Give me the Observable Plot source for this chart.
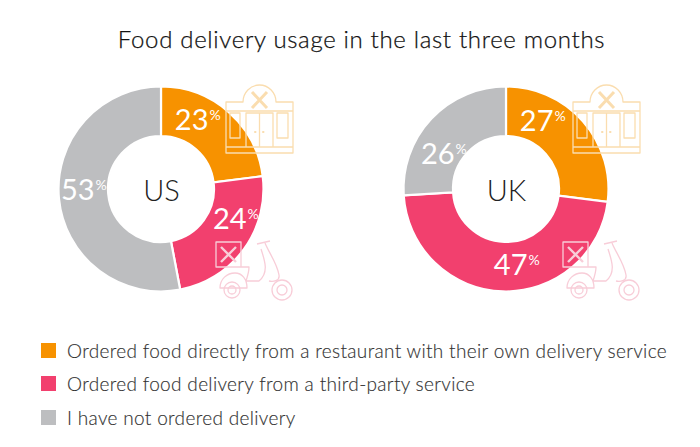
<!DOCTYPE html>
<html><head><meta charset="utf-8">
<script src="https://cdn.jsdelivr.net/npm/d3@7"></script>
<script src="https://cdn.jsdelivr.net/npm/@observablehq/plot@0.6"></script>
<style>
html,body{margin:0;padding:0;background:#fff;width:700px;height:447px;overflow:hidden;font-family:Lato,sans-serif}
#title{position:absolute;left:0;top:24px;width:723px;text-align:center;font-size:24px;line-height:30px;color:#111;font-weight:300;letter-spacing:.67px;-webkit-text-stroke:.25px #111}
#chart{position:absolute;left:0;top:70px}
.row{position:absolute;left:41px;height:16px;display:flex;align-items:center;white-space:nowrap;font-size:19px;font-weight:300;color:#333;letter-spacing:.33px;-webkit-text-stroke:.15px #333}
.row i{display:block;width:15px;height:15px;margin-right:11px;flex:none}
</style></head><body>
<div id="title">Food delivery usage in the last three months</div>
<div id="chart"></div>
<div id="legend"></div>
<script>
// ---- data ----
const countries = ["US", "UK"];
const categories = [
  "Ordered food directly from a restaurant with their own delivery service",
  "Ordered food delivery from a third-party service",
  "I have not ordered delivery"
];
const usValues = [23, 24, 53];
const ukValues = [27, 47, 26];
const colors = ["#F79200", "#F2406E", "#BDBEC0"];

// ---- layout ----
const W = 700, H = 240, R = 102.5, r0 = 53, midR = 78;
const centerX = {US: 161, UK: 506};
const centerY = 119;
const nudge = {US: [[-4.6,-2.5],[22,-8],[10.7,.7]], UK: [[-11.5,-9.4],[23.4,6],[4.9,25.4]]};
const legendTops = [342, 375, 409];

const slices = [];
for (const [country, vals] of [["US", usValues], ["UK", ukValues]]) {
  let cum = 0;
  vals.forEach((v, k) => {
    const startAngle = cum / 100 * 2 * Math.PI;
    cum += v;
    const endAngle = cum / 100 * 2 * Math.PI;
    const mid = (startAngle + endAngle) / 2;
    slices.push({
      country, value: v, category: categories[k], startAngle, endAngle,
      cx: centerX[country], cy: centerY,
      lx: centerX[country] + midR * Math.sin(mid) + nudge[country][k][0],
      ly: centerY - midR * Math.cos(mid) + nudge[country][k][1]
    });
  });
}
const arc = d3.arc().innerRadius(r0).outerRadius(R);

function renderSlices(index, scales, values) {
  const g = d3.create("svg:g");
  for (const i of index) {
    g.append("path")
      .attr("transform", `translate(${values.x[i]},${values.y[i]})`)
      .attr("d", arc(slices[i]))
      .attr("fill", values.fill[i])
      .attr("stroke", "#fff").attr("stroke-width", 2.2);
  }
  return g.node();
}

// decorative line icons, relative to each donut's centre
function iconMark(index, scales) {
  const g = d3.create("svg:g").attr("fill", "none").attr("stroke-linejoin", "round");
  for (const c of countries) {
    const t = g.append("g").attr("transform", `translate(${scales.x(centerX[c]) + (c === "UK" ? 2 : 0)},${scales.y(centerY)})`);
    const shop = t.append("g").attr("stroke", "#FADDAF").attr("stroke-width", 1.3);
    shop.append("path").attr("d",
      "M65 -87H82A16.500 17 0 0 1 115 -87H132V-36H65Z" +
      "M65 -78H132M65 -42H132" +
      "M69 -76H79V-51H69ZM116 -76H127V-51H116Z" +
      "M85 -76H112V-42H85ZM98.500 -76V-42");
    shop.append("path").attr("stroke-width", 3).attr("d", "M91 -97L106 -81M106 -97L91 -81");
    shop.append("path").attr("stroke-width", 2).attr("stroke-linecap", "round").attr("d", "M94 -57h.5M102 -57h.5");
    const bike = t.append("g").attr("stroke", "#F8CDD8").attr("stroke-width", 1.3);
    bike.append("path").attr("d",
      "M55 53H80V78H55Z" +
      "M96 55L109 52M104 54C108 64 116 74 118 86C119 92 112 93 108 92" +
      "M100 60C104 72 108 84 98 92H85C87 86 88 82 88 78H56" +
      "M59 99C59 90 66 84 74 84C81 84 86 90 86 99Z");
    bike.append("path").attr("stroke-width", 2.4).attr("d", "M60 58L75 73M75 58L60 73");
    for (const [cxx, ry, rr] of [[121, 101, 10], [121, 101, 5], [71, 101, 8], [71, 101, 4]]) {
      bike.append("circle").attr("cx", cxx).attr("cy", ry).attr("r", rr);
    }
  }
  return g.node();
}

const centerLabels = countries.map(c => ({label: c, x: centerX[c], y: centerY + 10}));

const plot = Plot.plot({
  width: W, height: H,
  margin: 0,
  x: {domain: [0, W], range: [0, W], axis: null},
  y: {domain: [0, H], range: [0, H], axis: null},
  color: {domain: categories, range: colors},
  marks: [
    Plot.dot(slices, {x: "cx", y: "cy", fill: "category", r: R, render: renderSlices}),
    iconMark,
    Plot.text(slices, {x: "lx", y: "ly", text: d => String(d.value), textAnchor: "end", lineAnchor: "bottom",
      fill: "#fff", fontSize: 29, fontWeight: 400, fontFamily: "Lato", dy: 2}),
    Plot.text(slices, {x: "lx", y: "ly", text: () => "%", textAnchor: "start", lineAnchor: "bottom",
      fill: "#fff", fontSize: 14, fontWeight: 400, fontFamily: "Lato", dx: 1, dy: -8}),
    Plot.text(centerLabels, {x: "x", y: "y", text: "label", textAnchor: "middle", lineAnchor: "bottom",
      fill: "#222", fontSize: 29, fontWeight: 300, fontFamily: "Lato", dy: 1})
  ]
});
document.getElementById("chart").append(plot);

const legend = document.getElementById("legend");
categories.forEach((c, k) => {
  const row = document.createElement("div");
  row.className = "row";
  row.style.top = legendTops[k] + "px";
  const sw = document.createElement("i");
  sw.style.background = colors[k];
  row.append(sw, document.createTextNode(c));
  legend.append(row);
});
</script>
</body></html>
